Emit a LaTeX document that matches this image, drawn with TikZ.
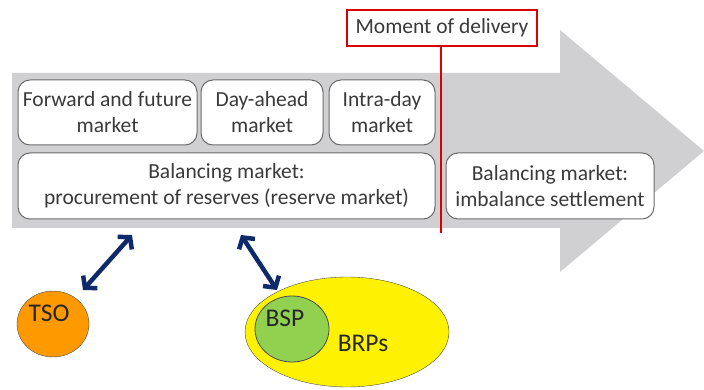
\documentclass[tikz,border=0pt]{standalone}
\usepackage{fontspec}
\setmainfont{Carlito}
\usetikzlibrary{arrows.meta,shapes.geometric}
\definecolor{arrowgray}{HTML}{D0D0D2}
\definecolor{boxtext}{HTML}{3A3A3A}
\definecolor{navy}{HTML}{0E2A6B}
\definecolor{tsoorange}{HTML}{FF9900}
\definecolor{bspgreen}{HTML}{92D050}
\tikzset{
  mbox/.style={draw=gray!85!black, line width=1pt, fill=white, rounded corners=12pt,
    align=center, text=boxtext, font=\fontsize{21.5}{26}\selectfont, inner sep=0pt},
  link/.style={draw=navy, line width=4.5pt, {Straight Barb[length=8pt,width=19pt]}-{Straight Barb[length=8pt,width=19pt]}},
  lbl/.style={font=\fontsize{25.5}{28}\selectfont, text=black!85}
}
\begin{document}
\begin{tikzpicture}[x=1pt,y=-1pt]
\useasboundingbox (0,0) rectangle (704,390);
% big arrow
\fill[arrowgray] (12,73) -- (560,73) -- (560,30) -- (704,151) -- (560,272) -- (560,228) -- (12,228) -- cycle;
% market boxes
\node[mbox, minimum width=179pt, minimum height=65pt] (fwd) at (107.5,112.5) {Forward and future\\market};
\node[mbox, minimum width=122pt, minimum height=65pt] (da) at (262,112.5) {Day-ahead\\market};
\node[mbox, minimum width=106pt, minimum height=65pt] (id) at (382,112.5) {Intra-day\\market};
\node[mbox, minimum width=417pt, minimum height=66pt] (bal) at (226.5,186) {Balancing market:\\procurement of reserves (reserve market)};
\node[mbox, minimum width=208pt, minimum height=66pt] (imb) at (550,186) {Balancing market:\\imbalance settlement};
% moment of delivery
\node[draw=red!85!black, line width=1.5pt, fill=white, minimum width=190pt, minimum height=36pt, inner sep=0pt,
  font=\fontsize{21.5}{24}\selectfont, text=boxtext] (mod) at (442,28) {Moment of delivery};
\coordinate (modend) at (441,233);
\draw[red!85!black, line width=1.5pt] (mod.south -| modend) -- (modend);
% actors
\node[ellipse, draw=gray!60!black, fill=tsoorange, minimum width=72pt, minimum height=66pt] (tso) at (53,324) {};
\node[lbl] (tsot) at (49,313) {TSO};
\node[ellipse, draw=gray!60!black, fill=yellow, minimum width=204pt, minimum height=110pt] (brp) at (347,332) {};
\node[ellipse, draw=gray!60!black, line width=0.8pt, fill=bspgreen, minimum width=74pt, minimum height=66pt] (bsp) at (292,329) {};
\node[lbl] (bspt) at (285,318) {BSP};
\node[lbl] (brpt) at (363,343) {BRPs};
% links
\coordinate (a1) at (132,235);
\coordinate (b1) at (83,290);
\coordinate (a2) at (241,235);
\coordinate (b2) at (277,290);
\draw[link] (a1) -- (b1);
\draw[link] (a2) -- (b2);
\end{tikzpicture}
\end{document}
